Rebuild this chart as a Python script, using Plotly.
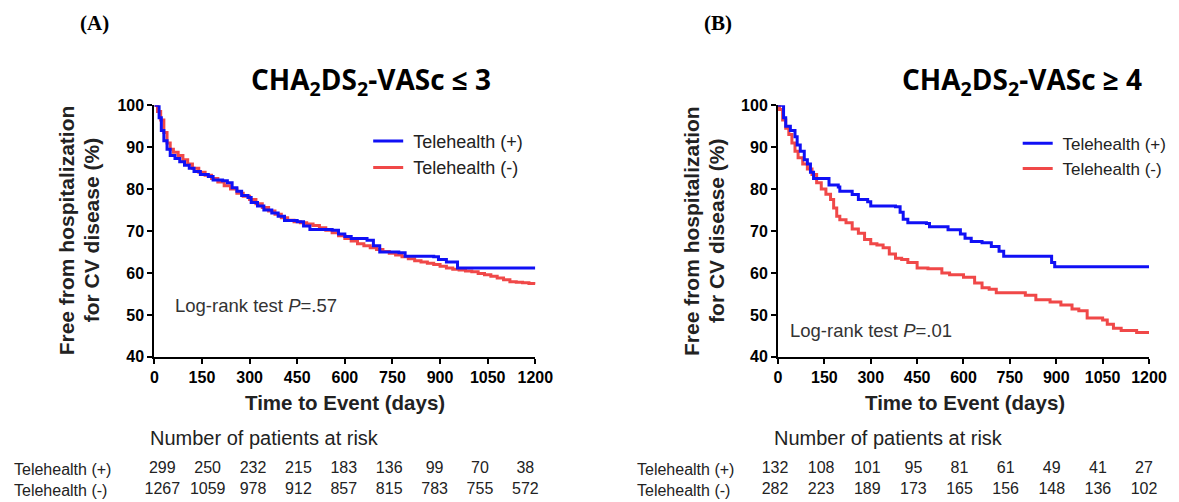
import plotly.graph_objects as go

W, H = 1179, 502
# The page is photographed with its 8px body margin and shrunk to fit the window;
# positions below are given in window pixels and mapped back to figure pixels.
PAGE_MARGIN, PAGE_SCALE = 8, W / (W + 16)

# ---------------- data ----------------
# Panel A: CHA2DS2-VASc <= 3
a_pos_days = [0, 8, 15, 22, 30, 40, 50, 65, 80, 95, 110, 125, 145, 170, 185, 215, 230, 245, 260, 275, 295, 305, 325, 345, 370, 390, 410, 450, 470, 490, 560, 580, 600, 620, 670, 690, 710, 770, 790, 880, 895, 920, 955, 1200]
a_pos_surv = [100, 100, 97, 94, 91.5, 89.5, 88, 87.3, 86.5, 85.7, 85, 84.2, 83.5, 83, 82.2, 82, 81.5, 80.3, 79.5, 78.5, 78, 76.8, 76, 75, 74.3, 73.5, 72.5, 72.2, 71.2, 70.4, 70.2, 69.3, 68.7, 68.2, 67.8, 66.5, 65, 64.8, 64, 63.9, 63.2, 62.6, 61.2, 61.2]

a_neg_days = [0, 5, 10, 20, 30, 40, 50, 60, 75, 90, 105, 120, 140, 160, 180, 200, 220, 240, 260, 280, 300, 320, 340, 360, 380, 400, 420, 440, 460, 480, 500, 520, 540, 560, 580, 600, 620, 640, 660, 680, 700, 720, 740, 760, 780, 800, 820, 840, 860, 880, 900, 920, 940, 960, 980, 1000, 1020, 1040, 1060, 1080, 1100, 1120, 1140, 1160, 1180, 1200]
a_neg_surv = [100, 100, 98.5, 96.5, 93.5, 91, 89.5, 88.8, 88, 87, 86, 85, 84, 83.3, 82.5, 81.7, 80.8, 80, 79, 78.3, 77.5, 76.5, 75.6, 74.8, 74, 73.2, 72.6, 72.2, 72, 71.7, 71.3, 70.8, 70.2, 69.6, 68.9, 68.2, 67.6, 67, 66.5, 66, 65.6, 65.1, 64.7, 64.3, 63.9, 63.4, 62.9, 62.6, 62.3, 62, 61.6, 61.2, 60.9, 60.7, 60.5, 60.3, 59.9, 59.6, 59.2, 58.8, 58.4, 57.9, 57.8, 57.7, 57.5, 57.3]

# Panel B: CHA2DS2-VASc >= 4
b_pos_days = [0, 10, 18, 25, 40, 55, 62, 72, 85, 95, 105, 115, 155, 165, 195, 200, 240, 260, 290, 300, 380, 395, 405, 420, 480, 490, 550, 590, 605, 625, 660, 690, 715, 730, 870, 885, 895, 1200]
b_pos_surv = [100, 100, 97, 95, 94, 92.5, 90.5, 89, 87, 86, 84, 82.5, 82.5, 81, 80.5, 79.5, 78.7, 77.5, 77, 76, 75.8, 74.5, 72.8, 72, 71.8, 71, 70.3, 69.3, 68.3, 67.5, 67.2, 66.3, 65.2, 64, 64, 62.5, 61.5, 61.5]

b_neg_days = [0, 5, 15, 25, 35, 45, 55, 65, 80, 95, 110, 125, 140, 155, 170, 180, 190, 200, 220, 240, 260, 280, 300, 320, 340, 360, 380, 400, 420, 450, 485, 530, 555, 600, 636, 660, 683, 706, 753, 800, 834, 880, 915, 951, 973, 1000, 1050, 1065, 1085, 1110, 1160, 1200]
b_neg_surv = [100, 99, 96.5, 94.5, 93, 91, 89, 87.5, 86, 84.8, 83.5, 81.5, 80, 78.8, 77.5, 75.5, 73.5, 72.7, 72, 70.5, 69.5, 68, 67, 66.7, 66, 64.5, 63.5, 63.2, 62.5, 61.2, 61, 60, 59.6, 59, 57.6, 56.5, 56.1, 55.3, 55.3, 54.7, 53.6, 53.1, 52.4, 51.4, 51, 49.3, 48.8, 47.8, 46.8, 46.3, 45.8, 45.8]

x_ticks = [0, 150, 300, 450, 600, 750, 900, 1050, 1200]
group_labels = ["Telehealth (+)", "Telehealth (-)"]

a_risk_pos = [299, 250, 232, 215, 183, 136, 99, 70, 38]
a_risk_neg = [1267, 1059, 978, 912, 857, 815, 783, 755, 572]
b_risk_pos = [132, 108, 101, 95, 81, 61, 49, 41, 27]
b_risk_neg = [282, 223, 189, 173, 165, 156, 148, 136, 102]

# ---------------- styling ----------------
BLUE = "#1010F5"
RED = "#F04848"
SANS = "Liberation Sans, Arial, sans-serif"
SERIF = "Liberation Serif, Times New Roman, serif"


def lay(t):
    """window pixel -> figure pixel"""
    return t / PAGE_SCALE - PAGE_MARGIN


def px(x):
    return min(max(lay(x) / W, 0.0), 1.0)


def py(y):
    return min(max(1 - lay(y) / H, 0.0), 1.0)


fig = go.Figure()

fig.add_trace(go.Scatter(x=a_neg_days, y=a_neg_surv, mode="lines", line=dict(color=RED, width=3, shape="hv"),
                         name="\u00a0" + group_labels[1], legend="legend", legendrank=2,
                         xaxis="x", yaxis="y"))
fig.add_trace(go.Scatter(x=a_pos_days, y=a_pos_surv, mode="lines", line=dict(color=BLUE, width=3, shape="hv"),
                         name="\u00a0" + group_labels[0], legend="legend", legendrank=1,
                         xaxis="x", yaxis="y"))
fig.add_trace(go.Scatter(x=b_neg_days, y=b_neg_surv, mode="lines", line=dict(color=RED, width=3, shape="hv"),
                         name="\u00a0" + group_labels[1], legend="legend2", legendrank=2,
                         xaxis="x2", yaxis="y2"))
fig.add_trace(go.Scatter(x=b_pos_days, y=b_pos_surv, mode="lines", line=dict(color=BLUE, width=3, shape="hv"),
                         name="\u00a0" + group_labels[0], legend="legend2", legendrank=1,
                         xaxis="x2", yaxis="y2"))

idx = list(range(len(x_ticks)))
for xa, pos, neg in (("x3", a_risk_pos, a_risk_neg), ("x4", b_risk_pos, b_risk_neg)):
    for vals, row in ((pos, "p"), (neg, "n")):
        fig.add_trace(go.Scatter(x=idx, y=[row] * len(idx), mode="text", text=[str(v) for v in vals],
                                 textfont=dict(family=SANS, size=16, color="#222"), showlegend=False,
                                 hoverinfo="skip", xaxis=xa, yaxis="y3", cliponaxis=False))

axis_common = dict(showline=True, linewidth=2, linecolor="black", ticks="outside", ticklen=5, tickwidth=2,
                   tickcolor="black", showgrid=False, zeroline=False,
                   tickfont=dict(family=SANS, size=16, color="black", weight="bold"))

# risk-table rows: "p" row at y=471, "n" row at y=492 (window px), inside a band 456..496
band_top, band_bot, row_p, row_n = 456, 496, 471, 492
f_n = (lay(band_bot) - lay(row_n)) / (lay(band_bot) - lay(band_top))
f_p = (lay(band_bot) - lay(row_p)) / (lay(band_bot) - lay(band_top))
span = 1 / (f_p - f_n)
r0 = -f_n * span

y_top, y_bot = py(99), py(356)
fig.update_layout(
    width=W, height=H, margin=dict(l=0, r=0, t=0, b=0),
    paper_bgcolor="white", plot_bgcolor="white",
    xaxis=dict(domain=[px(151), px(534)], range=[0, 1200], tickvals=x_ticks, anchor="y", **axis_common),
    yaxis=dict(domain=[y_bot, y_top], range=[40, 100], dtick=10, anchor="x", **axis_common),
    xaxis2=dict(domain=[px(778), px(1151)], range=[0, 1200], tickvals=x_ticks, anchor="y2", **axis_common),
    yaxis2=dict(domain=[y_bot, y_top], range=[40, 100], dtick=10, anchor="x2", **axis_common),
    xaxis3=dict(domain=[px(159), px(524)], range=[0, 8], visible=False, anchor="y3"),
    xaxis4=dict(domain=[px(775), px(1146)], range=[0, 8], visible=False, anchor="y3"),
    yaxis3=dict(domain=[py(band_bot), py(band_top)], type="category", categoryorder="array",
                categoryarray=["n", "p"], range=[r0, r0 + span], visible=False, anchor="x3"),
    legend=dict(x=px(366), y=py(117), xanchor="left", yanchor="top", bgcolor="rgba(0,0,0,0)",
                font=dict(family=SANS, size=18, color="#222"), itemwidth=30, tracegroupgap=0),
    legend2=dict(x=px(1019), y=py(120), xanchor="left", yanchor="top", bgcolor="rgba(0,0,0,0)",
                 font=dict(family=SANS, size=17, color="#222"), itemwidth=30, tracegroupgap=3),
    showlegend=True,
)

ann = []


def add_text(text, x, y, size, xanchor="center", bold=False, family=SANS, angle=0, color="#222"):
    ann.append(dict(text=text, x=px(x), y=py(y), xref="paper", yref="paper", xanchor=xanchor, yanchor="middle",
                    showarrow=False, textangle=angle,
                    font=dict(family=family, size=size, color=color, weight="bold" if bold else "normal")))


add_text("(A)", 91, 15, 21, bold=True, family=SERIF, color="black")
add_text("(B)", 718, 15, 21, bold=True, family=SERIF, color="black")
add_text("CHA<sub>2</sub>DS<sub>2</sub>-VASc \u2264 3", 369, 74, 28, bold=True, family="Open Sans, sans-serif", color="black")
add_text("CHA<sub>2</sub>DS<sub>2</sub>-VASc \u2265 4", 1023, 74, 28, bold=True, family="Open Sans, sans-serif", color="black")
for xc in (63, 691):
    add_text("Free from hospitalization", xc, 227, 21, bold=True, angle=-90)
    add_text("for CV disease (%)", xc + 25, 227, 21, bold=True, angle=-90)
add_text("Time to Event (days)", 343, 403, 20.5, bold=True)
add_text("Time to Event (days)", 966, 403, 20.5, bold=True)
add_text("Log-rank test <i>P</i>=.57", 170, 304, 18.5, xanchor="left", color="#333")
add_text("Log-rank test <i>P</i>=.01", 788, 329, 18.5, xanchor="left", color="#333")
add_text("Number of patients at risk", 262, 439, 20)
add_text("Number of patients at risk", 889, 439, 20)
for x0 in (3, 634):
    add_text(group_labels[0], x0, row_p, 16, xanchor="left")
    add_text(group_labels[1], x0, row_n, 16, xanchor="left")

fig.update_layout(annotations=ann)
fig.write_html("out.html")
